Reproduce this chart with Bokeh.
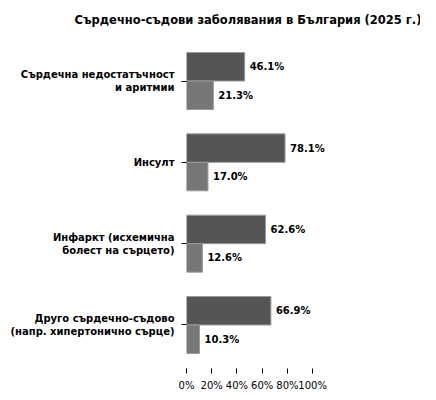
from bokeh.plotting import figure
from bokeh.models import Range1d, FixedTicker, ColumnDataSource
from bokeh.core.properties import value
from bokeh.embed import file_html
from bokeh.resources import INLINE

categories = [
    "Сърдечна недостатъчност\nи аритмии",
    "Инсулт",
    "Инфаркт (исхемична\nболест на сърцето)",
    "Друго сърдечно-съдово\n(напр. хипертонично сърце)",
]
series_dark = [46.1, 78.1, 62.6, 66.9]
series_light = [21.3, 17.0, 12.6, 10.3]
x_ticks = [0, 20, 40, 60, 80, 100]
x_tick_labels = ["0%", "20%", "40%", "60%", "80%", "100%"]
title_text = "Сърдечно-съдови заболявания в България (2025 г.)"

FONT = "DejaVu Sans"
bar_h = 0.35
idx = list(range(len(categories)))

src_dark = ColumnDataSource(dict(
    y=[i - bar_h / 2 for i in idx], v=series_dark,
    lab=[f"{v:.1f}%" for v in series_dark]))
src_light = ColumnDataSource(dict(
    y=[i + bar_h / 2 for i in idx], v=series_light,
    lab=[f"{v:.1f}%" for v in series_light]))

p = figure(
    frame_width=164, frame_height=331,
    x_range=Range1d(0, 130), y_range=Range1d(3.535, -0.535),
    output_backend="svg", toolbar_location=None,
    min_border_left=186, min_border_top=36, min_border_right=70,
    min_border_bottom=20,
)
p.title.text = title_text
p.title.align = "left"
p.title.offset = -112
p.title.standoff = 21
p.title.text_font = FONT
p.title.text_font_size = "11.5px"
p.title.text_font_style = "bold"
p.title.text_color = "black"

p.hbar(y="y", left=0, right="v", height=bar_h, source=src_dark,
       fill_color="#555555", line_color="#9a9a9a", line_width=1)
p.hbar(y="y", left=0, right="v", height=bar_h, source=src_light,
       fill_color="#777777", line_color="#9a9a9a", line_width=1)

for src in (src_dark, src_light):
    p.text(x="v", y="y", text="lab", source=src, x_offset=5,
           text_baseline="middle", text_align="left",
           text_font=value(FONT), text_font_size="10px",
           text_font_style="bold", text_color="black")

p.xaxis.ticker = FixedTicker(ticks=x_ticks)
p.xaxis.major_label_overrides = {t: l for t, l in zip(x_ticks, x_tick_labels)}
p.yaxis.ticker = FixedTicker(ticks=idx)
p.yaxis.major_label_overrides = {i: c for i, c in zip(idx, categories)}

for ax in (p.xaxis, p.yaxis):
    ax.axis_line_color = None
    ax.major_tick_in = 0
    ax.major_tick_out = 5
    ax.minor_tick_line_color = None
    ax.major_tick_line_color = "black"
    ax.major_label_text_font = FONT
    ax.major_label_text_font_size = "10px"
    ax.major_label_text_color = "black"
p.yaxis.major_label_text_font_style = "bold"
p.xaxis.major_label_standoff = 6
p.yaxis.major_label_standoff = 7

p.xgrid.grid_line_color = None
p.ygrid.grid_line_color = None
p.outline_line_color = None

open("out.html", "w").write(file_html(p, INLINE))
